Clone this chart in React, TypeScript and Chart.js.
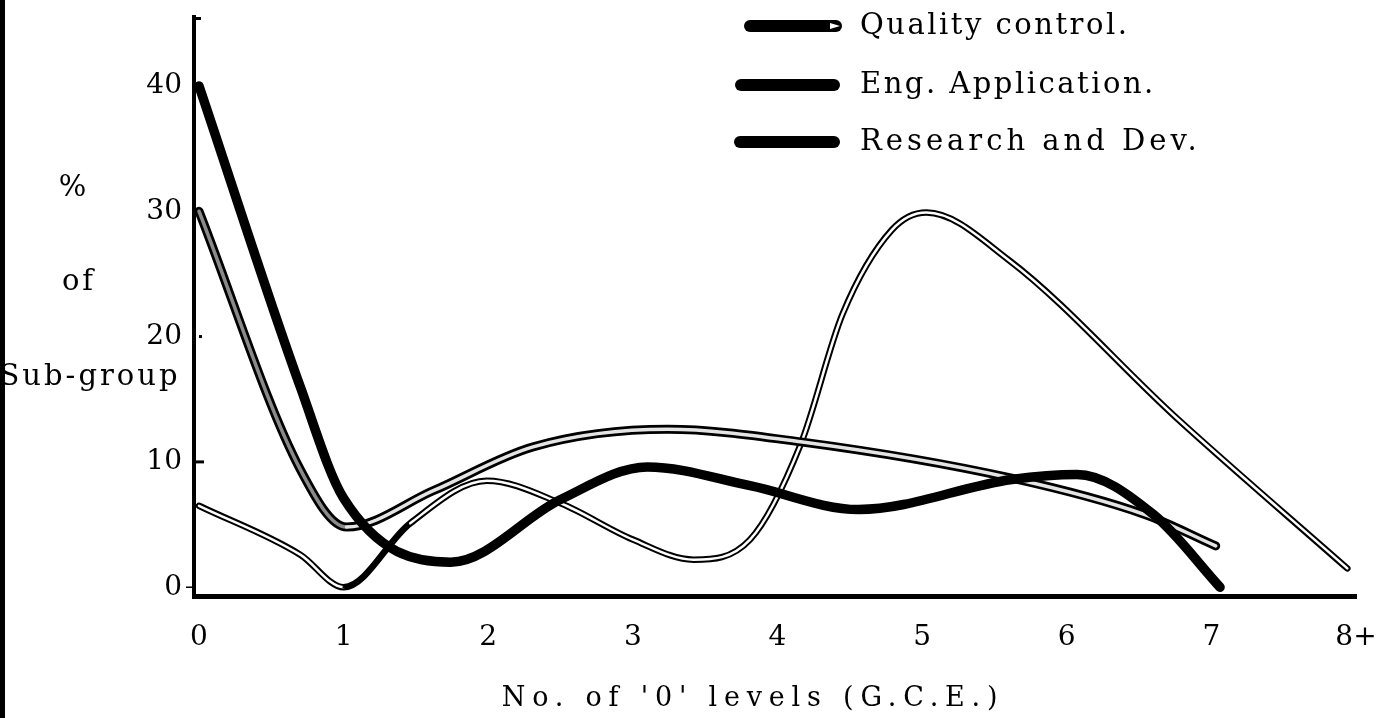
import React, { useEffect, useRef } from 'react';
import { Chart, registerables } from 'chart.js';

Chart.register(...registerables);

// ---- Data ----
const seriesLabels = ['Quality control.', 'Eng. Application.', 'Research and Dev.'];

// Quality control (heavy black line)
const qcX = [0, 0.7, 1.0, 1.74, 2.5, 3.1, 3.81, 4.56, 5.62, 6.07, 6.6, 7.06];
const qcY = [40, 16, 7.1, 2.0, 7.0, 9.6, 8.1, 6.2, 8.6, 9.0, 5.8, 0];

// Eng. Application (medium outlined line)
const engX = [0, 0.7, 1.02, 1.62, 2.31, 3.24, 4.16, 5.62, 6.54, 7.03];
const engY = [30, 9.4, 4.8, 7.7, 11.2, 12.6, 11.6, 8.7, 5.8, 3.3];

// Research and Dev. (thin outlined line)
const rdX = [0, 0.7, 1.0, 1.46, 1.99, 2.5, 3.0, 3.42, 3.81, 4.16, 4.45, 4.79, 5.03, 5.6, 6.76, 7.94];
const rdY = [6.5, 2.6, 0, 5.1, 8.5, 6.7, 3.8, 2.2, 3.8, 11.4, 21.8, 28.5, 29.9, 26.1, 13.5, 1.5];

const xTickValues = [0, 1, 2, 3, 4, 5, 6, 7, 8];
const xTickLabels = ['0', '1', '2', '3', '4', '5', '6', '7', '8+'];
const yTickValues = [0, 10, 20, 30, 40];
const yTitleLines = ['%', 'of', 'Sub-group'];
const xTitle = "No. of '0' levels (G.C.E.)";

const FONT = '"DejaVu Serif", serif';

const toPoints = (xs: number[], ys: number[]) => xs.map((x, i) => ({ x, y: ys[i] }));

const decorPlugin = {
  id: 'decor',
  afterDraw(chart: any) {
    const ctx: CanvasRenderingContext2D = chart.ctx;
    const yScale = chart.scales.y;
    const left = chart.chartArea.left;
    ctx.save();
    // scanned page edge
    ctx.fillStyle = '#000';
    ctx.fillRect(0, 0, 5, chart.height);

    // hand-drawn tick marks on the y axis
    ctx.strokeStyle = '#000';
    yTickValues.forEach((v) => {
      const py = yScale.getPixelForValue(v);
      if (v === 10) {
        ctx.lineWidth = 3;
        ctx.beginPath();
        ctx.moveTo(left, py);
        ctx.lineTo(left + 10, py);
        ctx.stroke();
      } else if (v === 0) {
        ctx.lineWidth = 1.5;
        ctx.beginPath();
        ctx.moveTo(left - 8, py);
        ctx.lineTo(left, py);
        ctx.stroke();
      } else if (v === 20 || v === 40) {
        ctx.fillRect(left + 5, py - 1.5, 3, 3);
      }
    });
    ctx.fillRect(left, chart.chartArea.top, 7, 3);

    ctx.textBaseline = 'middle';
    ctx.fillStyle = '#000';

    // y-axis title (stacked)
    ctx.font = `29px ${FONT}`;
    ctx.textAlign = 'center';
    (ctx as any).letterSpacing = '3px';
    const yTitlePos = [
      [74, 188],
      [79, 282],
      [90, 377],
    ];
    yTitleLines.forEach((t, i) => ctx.fillText(t, yTitlePos[i][0], yTitlePos[i][1]));

    // x-axis title
    ctx.font = `27px ${FONT}`;
    (ctx as any).letterSpacing = '6.8px';
    ctx.fillText(xTitle, 753, 699);

    // legend
    ctx.font = `29px ${FONT}`;
    const legendY = [26, 85, 142];
    const swatch = [
      [750, 836],
      [741, 834],
      [740, 834],
    ];
    ctx.lineCap = 'round';
    seriesLabels.forEach((label, i) => {
      ctx.strokeStyle = '#000';
      ctx.lineWidth = 12;
      ctx.beginPath();
      ctx.moveTo(swatch[i][0], legendY[i]);
      ctx.lineTo(swatch[i][1], legendY[i]);
      ctx.stroke();
      (ctx as any).letterSpacing = i === 2 ? '4px' : '2.5px';
      ctx.textAlign = 'left';
      ctx.fillText(label, 860, legendY[i]);
    });
    // pencil tip on the first swatch
    ctx.fillStyle = '#fff';
    ctx.beginPath();
    ctx.moveTo(830, 23);
    ctx.lineTo(840, 26);
    ctx.lineTo(830, 29);
    ctx.closePath();
    ctx.fill();
    ctx.restore();
  },
};

export default function App() {
  const ref = useRef<HTMLCanvasElement | null>(null);

  useEffect(() => {
    if (!ref.current) return;
    const common = {
      pointRadius: 0,
      pointHoverRadius: 0,
      cubicInterpolationMode: 'monotone' as const,
      borderCapStyle: 'round' as const,
      borderJoinStyle: 'round' as const,
      clip: false as any,
      fill: false,
    };
    const chart = new Chart(ref.current, {
      type: 'line',
      data: {
        datasets: [
          { ...common, label: seriesLabels[0], data: toPoints(qcX, qcY), borderColor: '#000', borderWidth: 9.5, order: 1 },
          {
            ...common,
            label: seriesLabels[1] + ' inner',
            data: toPoints(engX, engY),
            borderColor: '#e4e4e4',
            borderWidth: 3.5,
            order: 3,
            segment: { borderColor: (c: any) => (c.p0.parsed.x < 0.9 ? '#8a8a8a' : undefined) },
          },
          { ...common, label: seriesLabels[1], data: toPoints(engX, engY), borderColor: '#000', borderWidth: 9, order: 4 },
          {
            ...common,
            label: seriesLabels[2] + ' inner',
            data: toPoints(rdX, rdY),
            borderColor: '#ffffff',
            borderWidth: 2.5,
            order: 5,
            segment: { borderColor: (c: any) => (c.p0.parsed.x === 1.0 ? '#000' : undefined) },
          },
          { ...common, label: seriesLabels[2], data: toPoints(rdX, rdY), borderColor: '#000', borderWidth: 6.5, order: 6 },
        ],
      },
      options: {
        responsive: false,
        animation: false,
        events: [],
        layout: { padding: { left: 0, right: 22, top: 17, bottom: 0 } },
        plugins: { legend: { display: false }, tooltip: { enabled: false }, title: { display: false } },
        scales: {
          x: {
            type: 'linear',
            min: -0.0346,
            max: 8,
            afterFit: (s: any) => {
              s.height = 122;
              s.paddingLeft = 0;
              s.paddingRight = 0;
              s.paddingTop = 0;
              s.paddingBottom = 0;
            },
            afterBuildTicks: (s: any) => { s.ticks = xTickValues.map((v) => ({ value: v })); },
            grid: { display: false, drawTicks: false },
            border: { display: true, color: '#000', width: 5 },
            ticks: {
              color: '#000',
              padding: 25,
              maxRotation: 0,
              autoSkip: false,
              font: { family: FONT, size: 28 },
              callback: (v: any) => xTickLabels[xTickValues.indexOf(Number(v))] ?? '',
            },
          },
          y: {
            type: 'linear',
            min: -0.7,
            max: 45.5,
            afterFit: (s: any) => {
              s.width = 194;
              s.paddingLeft = 0;
              s.paddingRight = 0;
              s.paddingTop = 0;
              s.paddingBottom = 0;
            },
            afterBuildTicks: (s: any) => { s.ticks = yTickValues.map((v) => ({ value: v })); },
            grid: { display: false, drawTicks: false },
            border: { display: true, color: '#000', width: 4 },
            ticks: {
              color: '#000',
              padding: 12,
              font: { family: FONT, size: 28 },
              callback: (v: any) => String(v),
            },
          },
        },
      },
      plugins: [decorPlugin],
    });
    return () => chart.destroy();
  }, []);

  return (
    <div style={{ position: 'fixed', left: 0, top: 0, width: 1378, height: 718, background: '#fff' }}>
      <canvas ref={ref} width={1378} height={718} style={{ display: 'block' }} />
    </div>
  );
}
